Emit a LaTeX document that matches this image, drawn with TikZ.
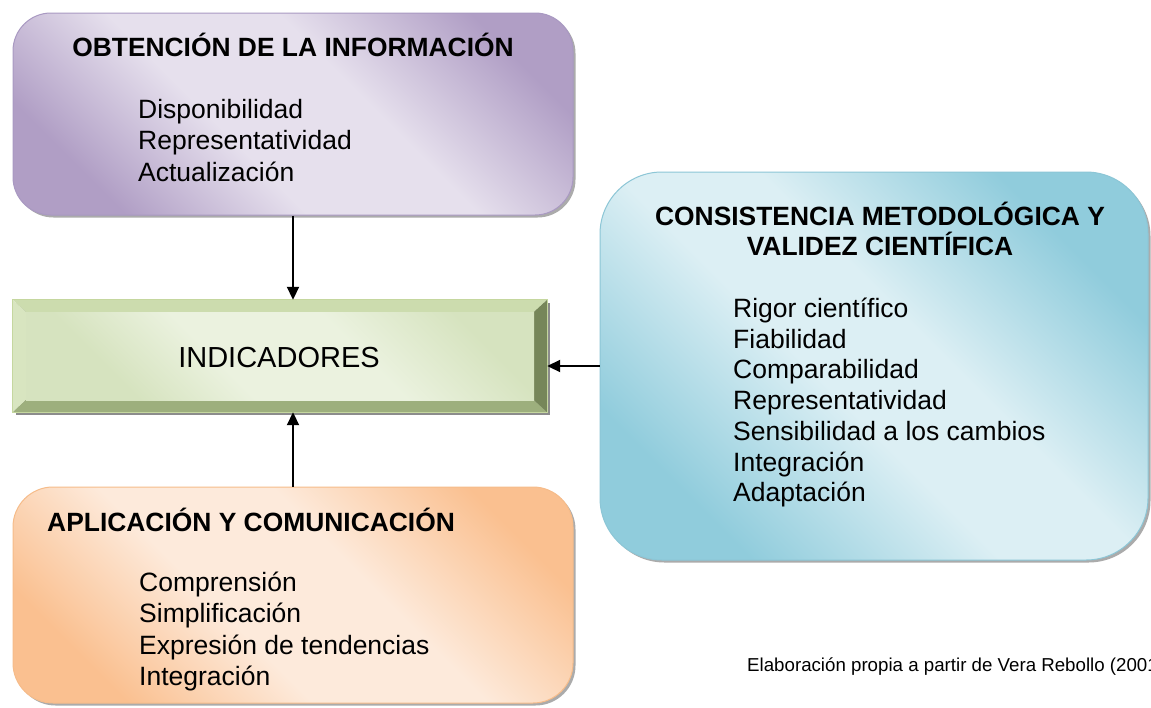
\documentclass[tikz,border=0pt]{standalone}
\usepackage{fontspec}
\setmainfont{Liberation Sans}
\usetikzlibrary{arrows.meta,shadows}
\definecolor{pD}{HTML}{B09EC5}
\definecolor{pL}{HTML}{E6E0ED}
\definecolor{pB}{HTML}{A999C2}
\definecolor{tD}{HTML}{90CCDC}
\definecolor{tL}{HTML}{DCEFF4}
\definecolor{tB}{HTML}{8CC6D6}
\definecolor{oD}{HTML}{FAC090}
\definecolor{oL}{HTML}{FDEADB}
\definecolor{oB}{HTML}{F6BC8A}
\definecolor{gD}{HTML}{D6E3BF}
\definecolor{gL}{HTML}{EBF2DF}
\definecolor{gT}{HTML}{CCDCAE}
\definecolor{gLe}{HTML}{D8E5C0}
\definecolor{gBo}{HTML}{9DAF7D}
\definecolor{gR}{HTML}{768659}
\definecolor{gO}{HTML}{C5D79F}
\pgfdeclarehorizontalshading{purpS}{100bp}{color(0bp)=(pD); color(25bp)=(pD); color(42bp)=(pL); color(58bp)=(pL); color(76bp)=(pD); color(100bp)=(pD)}
\pgfdeclarehorizontalshading{tealS}{100bp}{color(0bp)=(tD); color(26bp)=(tD); color(45bp)=(tL); color(56bp)=(tL); color(74bp)=(tD); color(100bp)=(tD)}
\pgfdeclarehorizontalshading{orS}{100bp}{color(0bp)=(oD); color(25bp)=(oD); color(42bp)=(oL); color(58bp)=(oL); color(76bp)=(oD); color(100bp)=(oD)}
\pgfdeclarehorizontalshading{grS}{100bp}{color(0bp)=(gD); color(28bp)=(gD); color(42bp)=(gL); color(60bp)=(gL); color(76bp)=(gD); color(100bp)=(gD)}
\begin{document}
\begin{tikzpicture}[x=1pt,y=-1pt,
  box/.style={rounded corners=#1, draw, line width=1pt, inner sep=0pt, shade, shading angle=45,
    drop shadow={shadow xshift=2.5pt, shadow yshift=-2.5pt, opacity=0.55, fill=black!60}},
  ttl/.style={font=\fontsize{26.4}{31}\selectfont\bfseries, inner sep=0pt, anchor=base},
  itm/.style={font=\fontsize{26.5}{31}\selectfont, inner sep=0pt, anchor=base west},
  conn/.style={-{Triangle[length=13pt,width=12pt]}, line width=1.9pt, black}]
\useasboundingbox (0,0) rectangle (1151,707);
\fill[white] (0,0) rectangle (1151,707);

% purple box
\node[box=38pt, shading=purpS, draw=pB, minimum width=560pt, minimum height=202pt] (obt) at (293,114) {};
\node[ttl] (obtT) at (293,56) {OBTENCIÓN DE LA INFORMACIÓN};
\foreach \t [count=\i] in {Disponibilidad, Representatividad, Actualización}
  \node[itm] (obt\i) at (138,{118+31.5*(\i-1)}) {\t};

% teal box
\node[box=62pt, shading=tealS, draw=tB, minimum width=548pt, minimum height=388pt] (cons) at (874,366) {};
\node[ttl] (consT1) at (880,225.5) {CONSISTENCIA METODOLÓGICA Y};
\node[ttl] (consT2) at (880,255.5) {VALIDEZ CIENTÍFICA};
\foreach \t [count=\i] in {Rigor científico, Fiabilidad, Comparabilidad, Representatividad, Sensibilidad a los cambios, Integración, Adaptación}
  \node[itm] (cons\i) at (733,{317.5+30.7*(\i-1)}) {\t};

% orange box
\node[box=40pt, shading=orS, draw=oB, minimum width=560pt, minimum height=216pt] (apl) at (293,595) {};
\node[ttl, anchor=base west] (aplT) at (47,531.5) {APLICACIÓN Y COMUNICACIÓN};
\foreach \t [count=\i] in {Comprensión, Simplificación, Expresión de tendencias, Integración}
  \node[itm] (apl\i) at (139,{591.5+31.3*(\i-1)}) {\t};

% indicadores bevel box
\fill[black!45] (16,303) rectangle (550,415);
\node[minimum width=534pt, minimum height=112pt, inner sep=0pt] (ind) at (280,356) {};
\fill[gT] (ind.north west) -- (ind.north east) -- (534,312) -- (26,312) -- cycle;
\fill[gLe] (ind.north west) -- (26,312) -- (26,400) -- (ind.south west) -- cycle;
\fill[gBo] (ind.south west) -- (26,400) -- (534,400) -- (ind.south east) -- cycle;
\fill[gR] (ind.north east) -- (534,312) -- (534,400) -- (ind.south east) -- cycle;
\shade[shading=grS, shading angle=45] (26,312) rectangle (534,400);
\draw[gO, line width=1pt] (ind.north west) rectangle (ind.south east);
\node[font=\fontsize{29}{34}\selectfont, inner sep=0pt, anchor=base] (indT) at (279,367.5) {INDICADORES};

% connectors
\draw[conn] (obt.south) -- (obt.south |- ind.north);
\draw[conn] (cons.west) -- (cons.west -| ind.east);
\draw[conn] (apl.north) -- (apl.north |- ind.south);

% source
\node[font=\fontsize{18.7}{22}\selectfont, inner sep=0pt, anchor=base west] (src) at (747,671) {Elaboración propia a partir de Vera Rebollo (2001)};
\end{tikzpicture}
\end{document}
